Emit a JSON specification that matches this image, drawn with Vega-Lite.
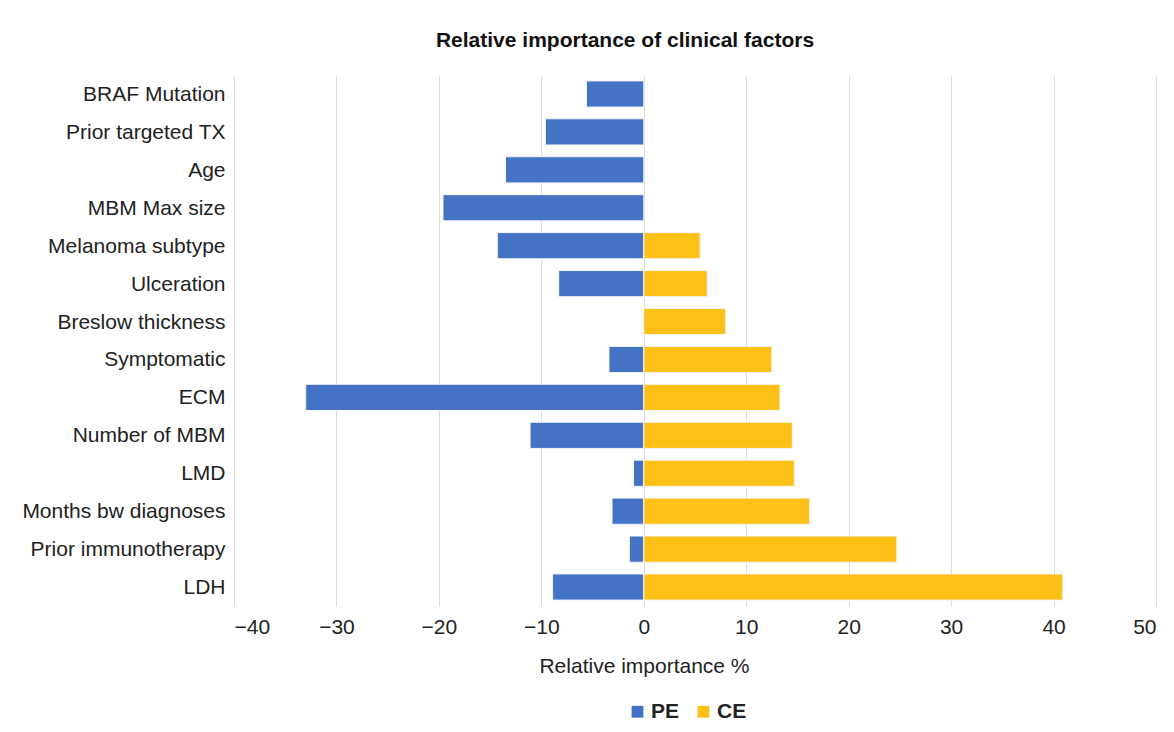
{
  "$schema": "https://vega.github.io/schema/vega-lite/v6.json",
  "autosize": "none",
  "width": 922,
  "height": 531,
  "padding": {"left": 234, "top": 75, "right": 18, "bottom": 126},
  "background": "white",
  "title": {
    "text": "Relative importance of clinical factors",
    "font": "Liberation Sans",
    "fontSize": 21,
    "fontWeight": "bold",
    "color": "#111",
    "anchor": "middle",
    "dx": -70,
    "offset": 24
  },
  "config": {
    "view": {"stroke": null},
    "font": "Liberation Sans"
  },
  "data": {
    "values": [
      {"factor": "BRAF Mutation", "group": "PE", "value": -5.6},
      {"factor": "Prior targeted TX", "group": "PE", "value": -9.6},
      {"factor": "Age", "group": "PE", "value": -13.5},
      {"factor": "MBM Max size", "group": "PE", "value": -19.6},
      {"factor": "Melanoma subtype", "group": "PE", "value": -14.3},
      {"factor": "Melanoma subtype", "group": "CE", "value": 5.5},
      {"factor": "Ulceration", "group": "PE", "value": -8.3},
      {"factor": "Ulceration", "group": "CE", "value": 6.2},
      {"factor": "Breslow thickness", "group": "CE", "value": 8.0},
      {"factor": "Symptomatic", "group": "PE", "value": -3.4},
      {"factor": "Symptomatic", "group": "CE", "value": 12.5},
      {"factor": "ECM", "group": "PE", "value": -33.0},
      {"factor": "ECM", "group": "CE", "value": 13.3},
      {"factor": "Number of MBM", "group": "PE", "value": -11.1},
      {"factor": "Number of MBM", "group": "CE", "value": 14.5},
      {"factor": "LMD", "group": "PE", "value": -1.0},
      {"factor": "LMD", "group": "CE", "value": 14.7},
      {"factor": "Months bw diagnoses", "group": "PE", "value": -3.1},
      {"factor": "Months bw diagnoses", "group": "CE", "value": 16.2},
      {"factor": "Prior immunotherapy", "group": "PE", "value": -1.4},
      {"factor": "Prior immunotherapy", "group": "CE", "value": 24.7},
      {"factor": "LDH", "group": "PE", "value": -8.9},
      {"factor": "LDH", "group": "CE", "value": 40.9}
    ]
  },
  "mark": {"type": "bar", "stroke": "#f4f6fb", "strokeWidth": 1},
  "encoding": {
    "y": {
      "field": "factor",
      "type": "nominal",
      "sort": ["BRAF Mutation", "Prior targeted TX", "Age", "MBM Max size", "Melanoma subtype", "Ulceration", "Breslow thickness", "Symptomatic", "ECM", "Number of MBM", "LMD", "Months bw diagnoses", "Prior immunotherapy", "LDH"],
      "scale": {"paddingInner": 0.31, "paddingOuter": 0.155},
      "axis": {
        "title": null,
        "domain": false,
        "ticks": false,
        "grid": false,
        "labelFontSize": 21,
        "labelColor": "#222",
        "labelPadding": 9,
        "labelLimit": 300,
        "labelFont": "Liberation Sans",
        "labelOffset": 1
      }
    },
    "x": {
      "field": "value",
      "type": "quantitative",
      "stack": "zero",
      "scale": {"domain": [-40, 50], "nice": false},
      "axis": {
        "values": [-40, -30, -20, -10, 0, 10, 20, 30, 40, 50],
        "title": "Relative importance %",
        "titleFontSize": 21,
        "titleFontWeight": "normal",
        "titleColor": "#222",
        "titleX": 410,
        "titleY": 49,
        "titleAlign": "center",
        "domain": false,
        "ticks": false,
        "grid": true,
        "gridColor": "#dcdcdc",
        "gridWidth": 1,
        "labelFontSize": 21,
        "labelColor": "#222",
        "labelPadding": 10
      }
    },
    "color": {
      "field": "group",
      "type": "nominal",
      "sort": ["PE", "CE"],
      "scale": {"domain": ["PE", "CE"], "range": ["#4472C4", "#FDC016"]},
      "legend": {
        "title": null,
        "orient": "none",
        "direction": "horizontal",
        "legendX": 393,
        "legendY": 626,
        "symbolType": "square",
        "symbolSize": 140,
        "symbolStrokeWidth": 0,
        "labelFontSize": 21,
        "labelFontWeight": "bold",
        "labelColor": "#222",
        "columnPadding": 13,
        "labelOffset": 3
      }
    },
    "order": {"field": "group", "sort": "descending"}
  }
}
